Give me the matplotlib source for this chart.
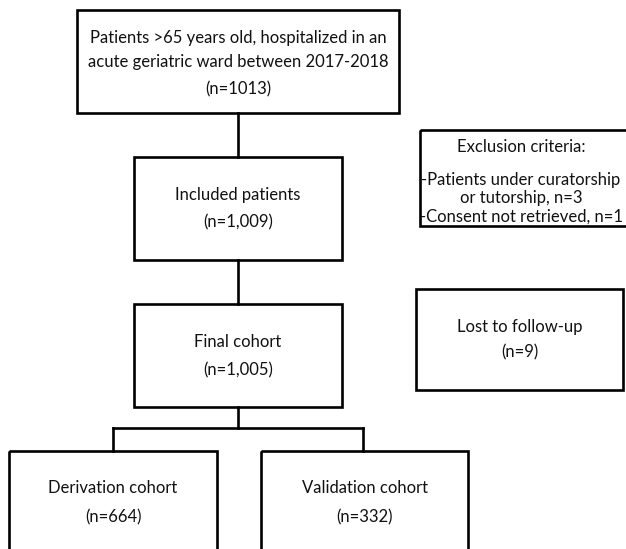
"""plot.py - cohort selection flowchart."""

import matplotlib
matplotlib.use("Agg")
import matplotlib.pyplot as plt
from matplotlib.patches import Rectangle

plt.rcParams["font.family"] = ["Lato", "DejaVu Sans"]

# ---------------------------------------------------------------------------
# Content
# ---------------------------------------------------------------------------
box_names = ["source", "included", "final", "exclusion", "lost", "derivation", "validation"]
box_texts = [
    ["Patients >65 years old, hospitalized in an",
     "acute geriatric ward between 2017-2018", "(n=1013)"],
    ["Included patients", "(n=1,009)"],
    ["Final cohort", "(n=1,005)"],
    ["Exclusion criteria:", "-Patients under curatorship",
     "or tutorship, n=3", "-Consent not retrieved, n=1"],
    ["Lost to follow-up", "(n=9)"],
    ["Derivation cohort", "(n=664)"],
    ["Validation cohort", "(n=332)"],
]

# ---------------------------------------------------------------------------
# Layout (pixel coordinates, y downwards)
# ---------------------------------------------------------------------------
box_xy = {  # left, top, right, bottom
    "source":     (77, 10, 399, 113),
    "included":   (134, 157, 342, 260),
    "final":      (134, 304, 342, 407),
    "exclusion":  (420, 130, 630, 226),
    "lost":       (416, 289, 623, 390),
    "derivation": (9, 451, 217, 600),
    "validation": (261, 451, 468, 600),
}
text_y = {
    "source":     [38, 62, 89],
    "included":   [195, 222],
    "final":      [342, 370],
    "exclusion":  [147, 180, 198, 217],
    "lost":       [327, 352],
    "derivation": [488, 517],
    "validation": [488, 517],
}
text_x = {"exclusion": 521}

W, H = 626, 549
fig = plt.figure(figsize=(W / 100, H / 100), dpi=100)
ax = fig.add_axes([0, 0, 1, 1])
ax.set_xlim(0, W)
ax.set_ylim(H, 0)
ax.axis("off")

lw = 1.9
for name, lines in zip(box_names, box_texts):
    l, t, r, b = box_xy[name]
    ax.add_patch(Rectangle((l, t), r - l, b - t, fill=False,
                           edgecolor="black", linewidth=lw))
    cx = text_x.get(name, (l + r) / 2)
    for s, y in zip(lines, text_y[name]):
        ax.text(cx, y, s, ha="center", va="center", fontsize=12, color="#111111")

# connectors
cx = 238
ax.plot([cx, cx], [113, 157], color="black", lw=lw)
ax.plot([cx, cx], [260, 304], color="black", lw=lw)
ax.plot([cx, cx], [407, 428], color="black", lw=lw)
ax.plot([113, 363], [428, 428], color="black", lw=lw, solid_capstyle="projecting")
ax.plot([113, 113], [428, 451], color="black", lw=lw)
ax.plot([363, 363], [428, 451], color="black", lw=lw)

fig.savefig("out.png", dpi=100, facecolor="white")
